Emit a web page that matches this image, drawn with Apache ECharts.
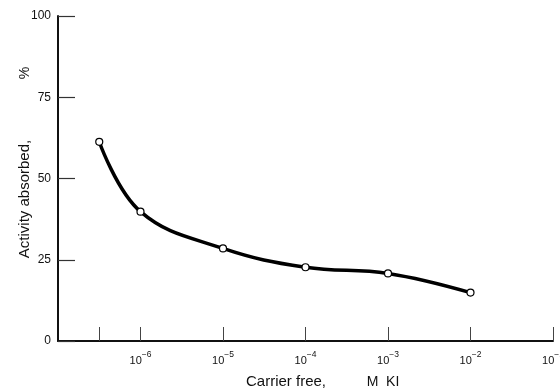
<!DOCTYPE html>
<html><head><meta charset="utf-8">
<script src="https://cdn.jsdelivr.net/npm/echarts@6/dist/echarts.min.js"></script>
<style>html,body{margin:0;padding:0;background:#fff}#c{width:560px;height:388px}</style>
</head><body><div id="c"></div>
<script>
// x positions are log10 of KI molarity; carrier free drawn at -6.5
const xPositions = [-6.5, -6, -5, -4, -3, -2];
const activity = [61.3, 39.8, 28.5, 22.7, 20.8, 14.9];
const xTickValues = [-6.5, -6, -5, -4, -3, -2, -1];
const xLabelValues = [-6, -5, -4, -3, -2, -1];
const yTicks = [0, 25, 50, 75, 100];

const chart = echarts.init(document.getElementById('c'), null, {renderer: 'canvas'});
const font = '"Liberation Sans", Arial, sans-serif';
chart.setOption({
  animation: false,
  backgroundColor: '#fff',
  grid: {left: 58, right: 7, top: 16, bottom: 47, containLabel: false, outerBoundsMode: 'none'},
  xAxis: {
    type: 'value', min: -7, max: -1,
    axisLine: {lineStyle: {color: '#111', width: 2}},
    axisTick: {show: true, inside: true, length: 14, customValues: xTickValues, lineStyle: {color: '#444', width: 1}},
    axisLabel: {
      customValues: xLabelValues, margin: 9, hideOverlap: false, showMaxLabel: true,
      formatter: v => '{b|10}{s|' + String(Math.round(v)).replace('-', '−') + '}',
      rich: {
        b: {fontFamily: font, fontSize: 11, color: '#111', verticalAlign: 'bottom', lineHeight: 16},
        s: {fontFamily: font, fontSize: 8.5, color: '#111', verticalAlign: 'top', lineHeight: 4}
      }
    },
    splitLine: {show: false}
  },
  yAxis: {
    type: 'value', min: 0, max: 100, interval: 25,
    axisLine: {show: true, lineStyle: {color: '#111', width: 2}},
    axisTick: {show: true, inside: true, length: 17, lineStyle: {color: '#333', width: 1.2}},
    axisLabel: {fontFamily: font, fontSize: 12, color: '#111', margin: 7},
    splitLine: {show: false}
  },
  graphic: [
    {type: 'text', x: 25, y: 199, rotation: Math.PI / 2,
      style: {text: 'Activity absorbed,', font: '15px ' + font, fill: '#111', align: 'center', verticalAlign: 'middle'}},
    {type: 'text', x: 25, y: 73, rotation: Math.PI / 2,
      style: {text: '%', font: '14px ' + font, fill: '#111', align: 'center', verticalAlign: 'middle'}},
    {type: 'text', x: 286, y: 382,
      style: {text: 'Carrier free,', font: '15px ' + font, fill: '#111', align: 'center', verticalAlign: 'middle'}},
    {type: 'text', x: 383, y: 382,
      style: {text: 'M  KI', font: '14px ' + font, fill: '#111', align: 'center', verticalAlign: 'middle'}}
  ],
  series: [{
    type: 'line',
    data: xPositions.map((x, i) => [x, activity[i]]),
    smooth: 0.4,
    lineStyle: {color: '#000', width: 3.5},
    symbol: 'circle', symbolSize: 7,
    itemStyle: {color: '#fff', borderColor: '#000', borderWidth: 1.2},
    z: 3
  }]
});
</script></body></html>
